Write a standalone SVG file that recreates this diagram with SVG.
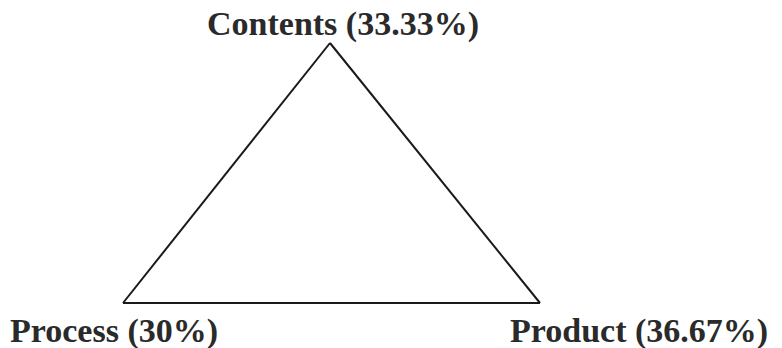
<svg xmlns="http://www.w3.org/2000/svg" width="782" height="348" viewBox="0 0 782 348">
<style>
.lbl{font-family:"Liberation Serif","Times New Roman",serif;font-weight:bold;font-size:34px;fill:#2a2a2a}
.edge{stroke:#1a1a1a;stroke-width:2;fill:none}
</style>
<rect width="782" height="348" fill="#ffffff"/>
<g id="connectors">
<line class="edge" x1="330" y1="43" x2="123" y2="303"/>
<line class="edge" x1="330" y1="43" x2="540" y2="303"/>
<line class="edge" x1="123" y1="303" x2="540" y2="303"/>
</g>
<g id="contents"><text class="lbl" x="207" y="35">Contents (33.33%)</text></g>
<g id="process"><text class="lbl" x="10" y="342">Process (30%)</text></g>
<g id="product"><text class="lbl" x="510" y="342">Product (36.67%)</text></g>
</svg>
